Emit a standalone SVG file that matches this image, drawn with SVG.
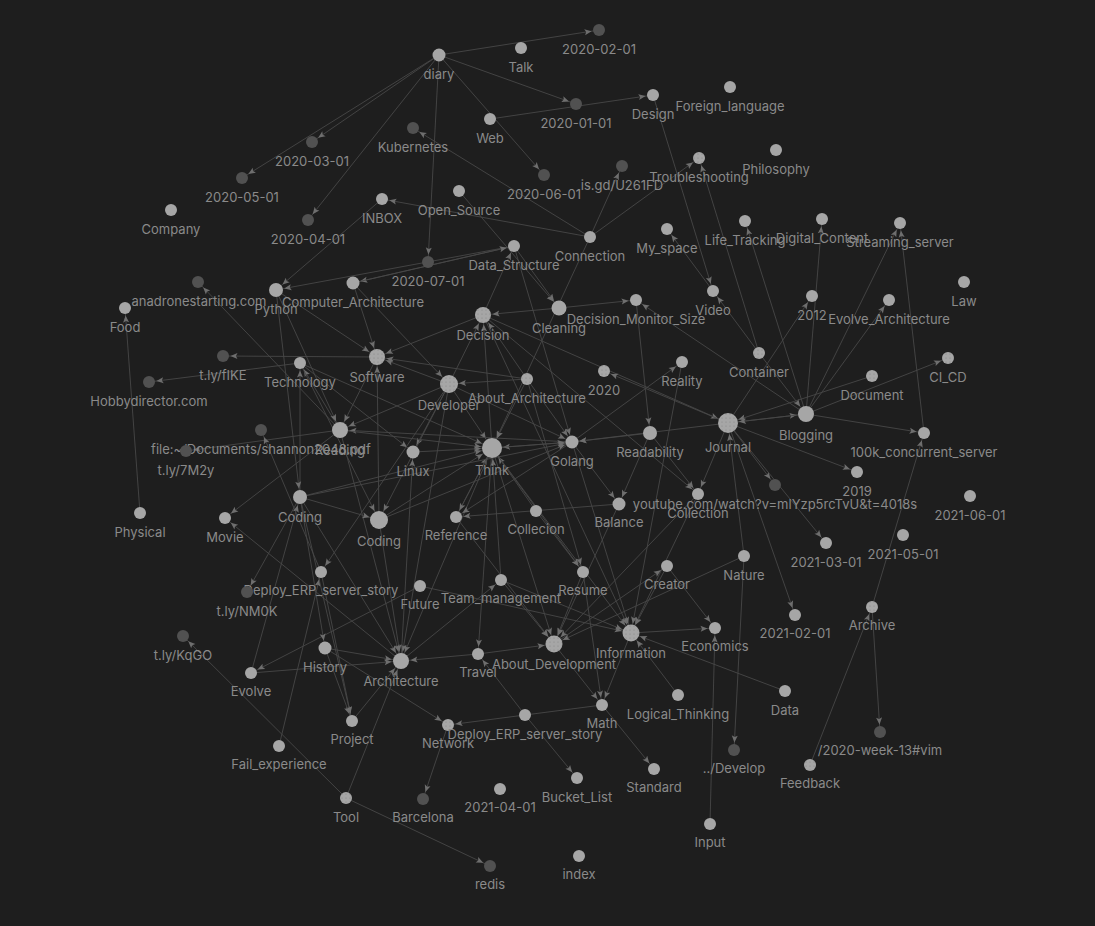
<svg xmlns="http://www.w3.org/2000/svg" width="1095" height="926" viewBox="0 0 1095 926">
<defs>
<style>
.e path{stroke:#474747;stroke-width:0.9;fill:none}
.n circle{fill:#a6a6a6}
.n circle.d{fill:#515151}
.n circle.p{fill:url(#dots)}
.n text{font-family:Inter,"Liberation Sans",sans-serif;font-size:13px;fill:#8a8a8a;text-anchor:middle}
</style>
<pattern id="dots" width="4" height="4" patternUnits="userSpaceOnUse"><rect width="4" height="4" fill="#a6a6a6"/><circle cx="2" cy="2" r="0.6" fill="#858585"/></pattern>
<marker id="a6" markerUnits="userSpaceOnUse" markerWidth="8" markerHeight="8" refX="14.5" refY="3" orient="auto" style="overflow:visible"><path d="M0,0L7,3L0,6L1.5,3Z" fill="#6e6e6e"/></marker>
<marker id="a7" markerUnits="userSpaceOnUse" markerWidth="8" markerHeight="8" refX="15.5" refY="3" orient="auto" style="overflow:visible"><path d="M0,0L7,3L0,6L1.5,3Z" fill="#6e6e6e"/></marker>
<marker id="a8" markerUnits="userSpaceOnUse" markerWidth="8" markerHeight="8" refX="16.5" refY="3" orient="auto" style="overflow:visible"><path d="M0,0L7,3L0,6L1.5,3Z" fill="#6e6e6e"/></marker>
<marker id="a9" markerUnits="userSpaceOnUse" markerWidth="8" markerHeight="8" refX="17" refY="3" orient="auto" style="overflow:visible"><path d="M0,0L7,3L0,6L1.5,3Z" fill="#6e6e6e"/></marker>
<marker id="a10" markerUnits="userSpaceOnUse" markerWidth="8" markerHeight="8" refX="18" refY="3" orient="auto" style="overflow:visible"><path d="M0,0L7,3L0,6L1.5,3Z" fill="#6e6e6e"/></marker>
</defs>
<rect width="1095" height="926" fill="#1e1e1e"/>
<g id="connectors" class="e">
<path d="M439 55L599 30" marker-end="url(#a6)"/>
<path d="M439 55L576 104" marker-end="url(#a6)"/>
<path d="M439 55L312 142" marker-end="url(#a6)"/>
<path d="M439 55L242 178" marker-end="url(#a6)"/>
<path d="M439 55L308 220" marker-end="url(#a6)"/>
<path d="M439 55L544 175" marker-end="url(#a6)"/>
<path d="M439 55L428 262" marker-end="url(#a6)"/>
<path d="M490 119L653 95" marker-end="url(#a6)"/>
<path d="M590 237L413 128" marker-end="url(#a6)"/>
<path d="M590 237L382 199" marker-end="url(#a6)"/>
<path d="M590 237L622 166" marker-end="url(#a6)"/>
<path d="M590 237L699 158" marker-end="url(#a6)"/>
<path d="M459 191L559 308" marker-end="url(#a7)"/>
<path d="M382 199L276 290" marker-end="url(#a7)"/>
<path d="M514 246L276 290" marker-end="url(#a7)"/>
<path d="M514 246L353 283" marker-end="url(#a6)"/>
<path d="M353 283L514 246" marker-end="url(#a6)"/>
<path d="M514 246L559 308" marker-end="url(#a7)"/>
<path d="M483 315L514 246" marker-end="url(#a6)"/>
<path d="M514 246L572 442" marker-end="url(#a6)"/>
<path d="M590 237L492 448" marker-end="url(#a10)"/>
<path d="M559 308L483 315" marker-end="url(#a8)"/>
<path d="M559 308L636 300" marker-end="url(#a6)"/>
<path d="M653 95L713 291" marker-end="url(#a6)"/>
<path d="M713 291L667 229" marker-end="url(#a6)"/>
<path d="M759 353L713 291" marker-end="url(#a6)"/>
<path d="M759 353L699 158" marker-end="url(#a6)"/>
<path d="M759 353L806 414" marker-end="url(#a8)"/>
<path d="M806 414L745 221" marker-end="url(#a6)"/>
<path d="M806 414L822 219" marker-end="url(#a6)"/>
<path d="M806 414L900 223" marker-end="url(#a6)"/>
<path d="M924 433L900 223" marker-end="url(#a6)"/>
<path d="M806 414L889 300" marker-end="url(#a6)"/>
<path d="M728 423L812 296" marker-end="url(#a6)"/>
<path d="M806 414L948 358" marker-end="url(#a6)"/>
<path d="M872 376L728 423" marker-end="url(#a10)"/>
<path d="M806 414L636 300" marker-end="url(#a6)"/>
<path d="M728 423L806 414" marker-end="url(#a8)"/>
<path d="M806 414L728 423" marker-end="url(#a10)"/>
<path d="M728 423L857 472" marker-end="url(#a6)"/>
<path d="M806 414L924 433" marker-end="url(#a6)"/>
<path d="M872 607L924 433" marker-end="url(#a6)"/>
<path d="M728 423L775 485" marker-end="url(#a6)"/>
<path d="M728 423L826 543" marker-end="url(#a6)"/>
<path d="M728 423L795 615" marker-end="url(#a6)"/>
<path d="M744 556L728 423" marker-end="url(#a10)"/>
<path d="M744 556L734 750" marker-end="url(#a6)"/>
<path d="M728 423L698 494" marker-end="url(#a6)"/>
<path d="M810 765L872 607" marker-end="url(#a6)"/>
<path d="M872 607L880 732" marker-end="url(#a6)"/>
<path d="M710 824L715 628" marker-end="url(#a6)"/>
<path d="M667 566L715 628" marker-end="url(#a6)"/>
<path d="M631 633L715 628" marker-end="url(#a6)"/>
<path d="M785 691L631 633" marker-end="url(#a8)"/>
<path d="M678 695L631 633" marker-end="url(#a8)"/>
<path d="M744 556L554 644" marker-end="url(#a8)"/>
<path d="M140 513L125 308" marker-end="url(#a6)"/>
<path d="M340 430L198 282" marker-end="url(#a6)"/>
<path d="M377 357L223 356" marker-end="url(#a6)"/>
<path d="M300 363L149 382" marker-end="url(#a6)"/>
<path d="M340 430L186 451" marker-end="url(#a6)"/>
<path d="M321 572L261 430" marker-end="url(#a6)"/>
<path d="M340 430L225 518" marker-end="url(#a6)"/>
<path d="M401 661L225 518" marker-end="url(#a6)"/>
<path d="M300 497L300 363" marker-end="url(#a6)"/>
<path d="M340 430L300 363" marker-end="url(#a6)"/>
<path d="M276 290L377 357" marker-end="url(#a8)"/>
<path d="M353 283L377 357" marker-end="url(#a8)"/>
<path d="M276 290L300 497" marker-end="url(#a7)"/>
<path d="M276 290L340 430" marker-end="url(#a8)"/>
<path d="M353 283L449 384" marker-end="url(#a9)"/>
<path d="M300 363L413 452" marker-end="url(#a6)"/>
<path d="M300 363L492 448" marker-end="url(#a10)"/>
<path d="M449 384L483 315" marker-end="url(#a8)"/>
<path d="M527 379L449 384" marker-end="url(#a9)"/>
<path d="M527 379L483 315" marker-end="url(#a8)"/>
<path d="M492 448L483 315" marker-end="url(#a8)"/>
<path d="M449 384L492 448" marker-end="url(#a10)"/>
<path d="M449 384L413 452" marker-end="url(#a6)"/>
<path d="M449 384L377 357" marker-end="url(#a8)"/>
<path d="M449 384L379 520" marker-end="url(#a9)"/>
<path d="M449 384L572 442" marker-end="url(#a6)"/>
<path d="M449 384L340 430" marker-end="url(#a8)"/>
<path d="M449 384L321 572" marker-end="url(#a6)"/>
<path d="M449 384L401 661" marker-end="url(#a8)"/>
<path d="M377 357L340 430" marker-end="url(#a8)"/>
<path d="M572 442L340 430" marker-end="url(#a8)"/>
<path d="M483 315L377 357" marker-end="url(#a8)"/>
<path d="M527 379L377 357" marker-end="url(#a8)"/>
<path d="M379 520L377 357" marker-end="url(#a8)"/>
<path d="M527 379L492 448" marker-end="url(#a10)"/>
<path d="M572 442L492 448" marker-end="url(#a10)"/>
<path d="M650 433L572 442" marker-end="url(#a6)"/>
<path d="M728 423L572 442" marker-end="url(#a6)"/>
<path d="M413 452L492 448" marker-end="url(#a10)"/>
<path d="M340 430L492 448" marker-end="url(#a10)"/>
<path d="M300 497L492 448" marker-end="url(#a10)"/>
<path d="M379 520L492 448" marker-end="url(#a10)"/>
<path d="M456 517L492 448" marker-end="url(#a10)"/>
<path d="M536 511L492 448" marker-end="url(#a10)"/>
<path d="M501 580L492 448" marker-end="url(#a10)"/>
<path d="M492 448L631 633" marker-end="url(#a8)"/>
<path d="M492 448L554 644" marker-end="url(#a8)"/>
<path d="M492 448L478 654" marker-end="url(#a6)"/>
<path d="M492 448L401 661" marker-end="url(#a8)"/>
<path d="M492 448L572 442" marker-end="url(#a6)"/>
<path d="M492 448L456 517" marker-end="url(#a6)"/>
<path d="M492 448L583 572" marker-end="url(#a6)"/>
<path d="M379 520L572 442" marker-end="url(#a6)"/>
<path d="M572 442L682 362" marker-end="url(#a6)"/>
<path d="M572 442L631 633" marker-end="url(#a8)"/>
<path d="M572 442L619 504" marker-end="url(#a6)"/>
<path d="M572 442L456 517" marker-end="url(#a6)"/>
<path d="M636 300L650 433" marker-end="url(#a7)"/>
<path d="M650 433L619 504" marker-end="url(#a6)"/>
<path d="M650 433L698 494" marker-end="url(#a6)"/>
<path d="M483 315L698 494" marker-end="url(#a6)"/>
<path d="M698 494L631 633" marker-end="url(#a8)"/>
<path d="M698 494L554 644" marker-end="url(#a8)"/>
<path d="M554 644L667 566" marker-end="url(#a6)"/>
<path d="M619 504L456 517" marker-end="url(#a6)"/>
<path d="M619 504L554 644" marker-end="url(#a8)"/>
<path d="M536 511L583 572" marker-end="url(#a6)"/>
<path d="M583 572L602 705" marker-end="url(#a6)"/>
<path d="M554 644L602 705" marker-end="url(#a6)"/>
<path d="M631 633L602 705" marker-end="url(#a6)"/>
<path d="M583 572L554 644" marker-end="url(#a8)"/>
<path d="M501 580L554 644" marker-end="url(#a8)"/>
<path d="M501 580L631 633" marker-end="url(#a8)"/>
<path d="M401 661L501 580" marker-end="url(#a6)"/>
<path d="M456 517L554 644" marker-end="url(#a8)"/>
<path d="M420 586L251 673" marker-end="url(#a6)"/>
<path d="M420 586L631 633" marker-end="url(#a8)"/>
<path d="M478 654L554 644" marker-end="url(#a8)"/>
<path d="M478 654L401 661" marker-end="url(#a8)"/>
<path d="M525 715L478 654" marker-end="url(#a6)"/>
<path d="M525 715L577 778" marker-end="url(#a6)"/>
<path d="M602 705L448 725" marker-end="url(#a6)"/>
<path d="M602 705L654 769" marker-end="url(#a6)"/>
<path d="M448 725L423 799" marker-end="url(#a6)"/>
<path d="M325 648L448 725" marker-end="url(#a6)"/>
<path d="M325 648L401 661" marker-end="url(#a8)"/>
<path d="M251 673L401 661" marker-end="url(#a8)"/>
<path d="M251 673L300 497" marker-end="url(#a7)"/>
<path d="M346 798L183 636" marker-end="url(#a6)"/>
<path d="M346 798L490 866" marker-end="url(#a6)"/>
<path d="M346 798L401 661" marker-end="url(#a8)"/>
<path d="M279 746L321 572" marker-end="url(#a6)"/>
<path d="M352 721L401 661" marker-end="url(#a8)"/>
<path d="M300 497L247 592" marker-end="url(#a6)"/>
<path d="M300 497L352 721" marker-end="url(#a6)"/>
<path d="M321 572L352 721" marker-end="url(#a6)"/>
<path d="M379 520L401 661" marker-end="url(#a8)"/>
<path d="M340 430L401 661" marker-end="url(#a8)"/>
<path d="M300 497L401 661" marker-end="url(#a8)"/>
<path d="M401 661L413 452" marker-end="url(#a6)"/>
<path d="M667 566L631 633" marker-end="url(#a8)"/>
<path d="M483 315L728 423" marker-end="url(#a10)"/>
<path d="M728 423L604 371" marker-end="url(#a6)"/>
<path d="M682 362L631 633" marker-end="url(#a8)"/>
<path d="M527 379L572 442" marker-end="url(#a6)"/>
<path d="M527 379L583 572" marker-end="url(#a6)"/>
<path d="M483 315L631 633" marker-end="url(#a8)"/>
<path d="M300 497L572 442" marker-end="url(#a6)"/>
<path d="M300 497L379 520" marker-end="url(#a9)"/>
<path d="M300 363L379 520" marker-end="url(#a9)"/>
<path d="M300 497L325 648" marker-end="url(#a6)"/>
<path d="M325 648L352 721" marker-end="url(#a6)"/>
</g>
<g id="nodes" class="n">
<g id="n-diary"><circle cx="439" cy="55" r="6.5"/><text x="439" y="79">diary</text></g>
<g id="n-talk"><circle cx="521" cy="48" r="6"/><text x="521" y="72">Talk</text></g>
<g id="n-20200201"><circle class="d" cx="599" cy="30" r="6"/><text x="599" y="54">2020-02-01</text></g>
<g id="n-20200101"><circle class="d" cx="576" cy="104" r="6"/><text x="576" y="128">2020-01-01</text></g>
<g id="n-design"><circle cx="653" cy="95" r="6"/><text x="653" y="119">Design</text></g>
<g id="n-foreign"><circle cx="730" cy="87" r="6"/><text x="730" y="111">Foreign_language</text></g>
<g id="n-web"><circle cx="490" cy="119" r="6"/><text x="490" y="143">Web</text></g>
<g id="n-kubernetes"><circle class="d" cx="413" cy="128" r="6"/><text x="413" y="152">Kubernetes</text></g>
<g id="n-20200301"><circle class="d" cx="312" cy="142" r="6"/><text x="312" y="166">2020-03-01</text></g>
<g id="n-20200501"><circle class="d" cx="242" cy="178" r="6"/><text x="242" y="202">2020-05-01</text></g>
<g id="n-20200601"><circle class="d" cx="544" cy="175" r="6"/><text x="544" y="199">2020-06-01</text></g>
<g id="n-isgd"><circle class="d" cx="622" cy="166" r="6"/><text x="622" y="190">is.gd/U261FD</text></g>
<g id="n-troubleshooting"><circle class="p" cx="699" cy="158" r="6"/><text x="699" y="182">Troubleshooting</text></g>
<g id="n-philosophy"><circle cx="776" cy="150" r="6"/><text x="776" y="174">Philosophy</text></g>
<g id="n-company"><circle cx="171" cy="210" r="6"/><text x="171" y="234">Company</text></g>
<g id="n-20200401"><circle class="d" cx="308" cy="220" r="6"/><text x="308" y="244">2020-04-01</text></g>
<g id="n-inbox"><circle cx="382" cy="199" r="6"/><text x="382" y="223">INBOX</text></g>
<g id="n-opensource"><circle cx="459" cy="191" r="6"/><text x="459" y="215">Open_Source</text></g>
<g id="n-connection"><circle cx="590" cy="237" r="6"/><text x="590" y="261">Connection</text></g>
<g id="n-myspace"><circle cx="667" cy="229" r="6"/><text x="667" y="253">My_space</text></g>
<g id="n-lifetracking"><circle cx="745" cy="221" r="6"/><text x="745" y="245">Life_Tracking</text></g>
<g id="n-digital"><circle cx="822" cy="219" r="6"/><text x="822" y="243">Digital_Content</text></g>
<g id="n-streaming"><circle cx="900" cy="223" r="6"/><text x="900" y="247">Streaming_server</text></g>
<g id="n-datastructure"><circle cx="514" cy="246" r="6"/><text x="514" y="270">Data_Structure</text></g>
<g id="n-20200701"><circle class="d" cx="428" cy="262" r="6"/><text x="428" y="286">2020-07-01</text></g>
<g id="n-law"><circle cx="964" cy="282" r="6"/><text x="964" y="306">Law</text></g>
<g id="n-anadrone"><circle class="d" cx="198" cy="282" r="6"/><text x="199" y="306">anadronestarting.com</text></g>
<g id="n-python"><circle cx="276" cy="290" r="7"/><text x="276" y="314">Python</text></g>
<g id="n-comparch"><circle cx="353" cy="283" r="6.5"/><text x="353" y="307">Computer_Architecture</text></g>
<g id="n-food"><circle cx="125" cy="308" r="6"/><text x="125" y="332">Food</text></g>
<g id="n-video"><circle cx="713" cy="291" r="6"/><text x="713" y="315">Video</text></g>
<g id="n-2012"><circle cx="812" cy="296" r="6"/><text x="812" y="320">2012</text></g>
<g id="n-evoarch"><circle cx="889" cy="300" r="6"/><text x="889" y="324">Evolve_Architecture</text></g>
<g id="n-cleaning"><circle cx="559" cy="308" r="7.5"/><text x="559" y="333">Cleaning</text></g>
<g id="n-decision"><circle class="p" cx="483" cy="315" r="8"/><text x="483" y="340">Decision</text></g>
<g id="n-dms"><circle cx="636" cy="300" r="6"/><text x="636" y="324">Decision_Monitor_Size</text></g>
<g id="n-tlyfike"><circle class="d" cx="223" cy="356" r="6"/><text x="223" y="380">t.ly/fIKE</text></g>
<g id="n-hobby"><circle class="d" cx="149" cy="382" r="6"/><text x="149" y="406">Hobbydirector.com</text></g>
<g id="n-technology"><circle cx="300" cy="363" r="6"/><text x="300" y="387">Technology</text></g>
<g id="n-software"><circle class="p" cx="377" cy="357" r="8"/><text x="377" y="382">Software</text></g>
<g id="n-container"><circle class="p" cx="759" cy="353" r="6"/><text x="759" y="377">Container</text></g>
<g id="n-document"><circle class="p" cx="872" cy="376" r="6"/><text x="872" y="400">Document</text></g>
<g id="n-cicd"><circle class="p" cx="948" cy="358" r="6"/><text x="948" y="382">CI_CD</text></g>
<g id="n-reality"><circle cx="682" cy="362" r="6"/><text x="682" y="386">Reality</text></g>
<g id="n-2020"><circle class="p" cx="604" cy="371" r="6"/><text x="604" y="395">2020</text></g>
<g id="n-aboutarch"><circle class="p" cx="527" cy="379" r="6"/><text x="527" y="403">About_Architecture</text></g>
<g id="n-developer"><circle class="p" cx="449" cy="384" r="9"/><text x="449" y="410">Developer</text></g>
<g id="n-journal"><circle class="p" cx="728" cy="423" r="10"/><text x="728" y="452">Journal</text></g>
<g id="n-blogging"><circle cx="806" cy="414" r="8"/><text x="806" y="440">Blogging</text></g>
<g id="n-100k"><circle cx="924" cy="433" r="6"/><text x="924" y="457">100k_concurrent_server</text></g>
<g id="n-file"><circle class="d" cx="261" cy="430" r="6"/><text x="261" y="454">file:~/Documents/shannon2048.pdf</text></g>
<g id="n-reading"><circle cx="340" cy="430" r="8"/><text x="340" y="455">Reading</text></g>
<g id="n-tly7m2y"><circle class="d" cx="186" cy="451" r="6"/><text x="186" y="475">t.ly/7M2y</text></g>
<g id="n-linux"><circle cx="413" cy="452" r="6.5"/><text x="413" y="476">Linux</text></g>
<g id="n-think"><circle cx="492" cy="448" r="10"/><text x="492" y="475">Think</text></g>
<g id="n-golang"><circle cx="572" cy="442" r="6.5"/><text x="572" y="466">Golang</text></g>
<g id="n-readability"><circle cx="650" cy="433" r="7"/><text x="650" y="457">Readability</text></g>
<g id="n-2019"><circle cx="857" cy="472" r="6"/><text x="857" y="496">2019</text></g>
<g id="n-youtube"><circle class="d" cx="775" cy="485" r="6"/><text x="775" y="509">youtube.com/watch?v=mlYzp5rcTvU&amp;t=4018s</text></g>
<g id="n-collection"><circle cx="698" cy="494" r="6"/><text x="698" y="518">Collection</text></g>
<g id="n-balance"><circle cx="619" cy="504" r="6.5"/><text x="619" y="527">Balance</text></g>
<g id="n-20210601"><circle cx="970" cy="496" r="6"/><text x="970" y="520">2021-06-01</text></g>
<g id="n-coding1"><circle cx="300" cy="497" r="7"/><text x="300" y="522">Coding</text></g>
<g id="n-physical"><circle cx="140" cy="513" r="6"/><text x="140" y="537">Physical</text></g>
<g id="n-movie"><circle cx="225" cy="518" r="6"/><text x="225" y="542">Movie</text></g>
<g id="n-coding2"><circle cx="379" cy="520" r="9"/><text x="379" y="546">Coding</text></g>
<g id="n-reference"><circle cx="456" cy="517" r="6"/><text x="456" y="540">Reference</text></g>
<g id="n-collecion"><circle cx="536" cy="511" r="6"/><text x="536" y="534">Collecion</text></g>
<g id="n-20210301"><circle cx="826" cy="543" r="6"/><text x="826" y="567">2021-03-01</text></g>
<g id="n-20210501"><circle cx="903" cy="535" r="6"/><text x="903" y="559">2021-05-01</text></g>
<g id="n-nature"><circle cx="744" cy="556" r="6"/><text x="744" y="580">Nature</text></g>
<g id="n-deploy1"><circle cx="321" cy="572" r="6"/><text x="321" y="595">Deploy_ERP_server_story</text></g>
<g id="n-tlynm0k"><circle class="d" cx="247" cy="592" r="6"/><text x="247" y="616">t.ly/NM0K</text></g>
<g id="n-future"><circle cx="420" cy="586" r="6"/><text x="420" y="609">Future</text></g>
<g id="n-team"><circle cx="501" cy="580" r="6"/><text x="501" y="603">Team_management</text></g>
<g id="n-resume"><circle cx="583" cy="572" r="6"/><text x="583" y="595">Resume</text></g>
<g id="n-creator"><circle cx="667" cy="566" r="6"/><text x="667" y="589">Creator</text></g>
<g id="n-tlykqgo"><circle class="d" cx="183" cy="636" r="6"/><text x="183" y="660">t.ly/KqGO</text></g>
<g id="n-history"><circle cx="325" cy="648" r="6.5"/><text x="325" y="672">History</text></g>
<g id="n-evolve"><circle cx="251" cy="673" r="6"/><text x="251" y="696">Evolve</text></g>
<g id="n-architecture"><circle cx="401" cy="661" r="8"/><text x="401" y="686">Architecture</text></g>
<g id="n-travel"><circle cx="478" cy="654" r="6"/><text x="478" y="677">Travel</text></g>
<g id="n-aboutdev"><circle class="p" cx="554" cy="644" r="8.5"/><text x="554" y="669">About_Development</text></g>
<g id="n-information"><circle class="p" cx="631" cy="633" r="8.5"/><text x="631" y="658">Information</text></g>
<g id="n-economics"><circle cx="715" cy="628" r="6"/><text x="715" y="651">Economics</text></g>
<g id="n-20210201"><circle cx="795" cy="615" r="6"/><text x="795" y="638">2021-02-01</text></g>
<g id="n-archive"><circle class="p" cx="872" cy="607" r="6"/><text x="872" y="630">Archive</text></g>
<g id="n-logical"><circle cx="678" cy="695" r="6"/><text x="678" y="719">Logical_Thinking</text></g>
<g id="n-data"><circle cx="785" cy="691" r="6"/><text x="785" y="715">Data</text></g>
<g id="n-project"><circle cx="352" cy="721" r="6"/><text x="352" y="744">Project</text></g>
<g id="n-network"><circle class="p" cx="448" cy="725" r="6"/><text x="448" y="748">Network</text></g>
<g id="n-deploy2"><circle cx="525" cy="715" r="6"/><text x="525" y="739">Deploy_ERP_server_story</text></g>
<g id="n-math"><circle cx="602" cy="705" r="6"/><text x="602" y="728">Math</text></g>
<g id="n-vim"><circle class="d" cx="880" cy="732" r="6"/><text x="880" y="755">/2020-week-13#vim</text></g>
<g id="n-develop"><circle class="d" cx="734" cy="750" r="6"/><text x="734" y="773">../Develop</text></g>
<g id="n-fail"><circle cx="279" cy="746" r="6"/><text x="279" y="769">Fail_experience</text></g>
<g id="n-feedback"><circle class="p" cx="810" cy="765" r="6"/><text x="810" y="788">Feedback</text></g>
<g id="n-standard"><circle cx="654" cy="769" r="6"/><text x="654" y="792">Standard</text></g>
<g id="n-tool"><circle class="p" cx="346" cy="798" r="6"/><text x="346" y="822">Tool</text></g>
<g id="n-barcelona"><circle class="d" cx="423" cy="799" r="6"/><text x="423" y="822">Barcelona</text></g>
<g id="n-20210401"><circle cx="500" cy="789" r="6"/><text x="500" y="812">2021-04-01</text></g>
<g id="n-bucket"><circle cx="577" cy="778" r="6"/><text x="577" y="802">Bucket_List</text></g>
<g id="n-input"><circle cx="710" cy="824" r="6"/><text x="710" y="847">Input</text></g>
<g id="n-index"><circle cx="579" cy="856" r="6"/><text x="579" y="879">index</text></g>
<g id="n-redis"><circle class="d" cx="490" cy="866" r="6"/><text x="490" y="889">redis</text></g>
</g>
</svg>
